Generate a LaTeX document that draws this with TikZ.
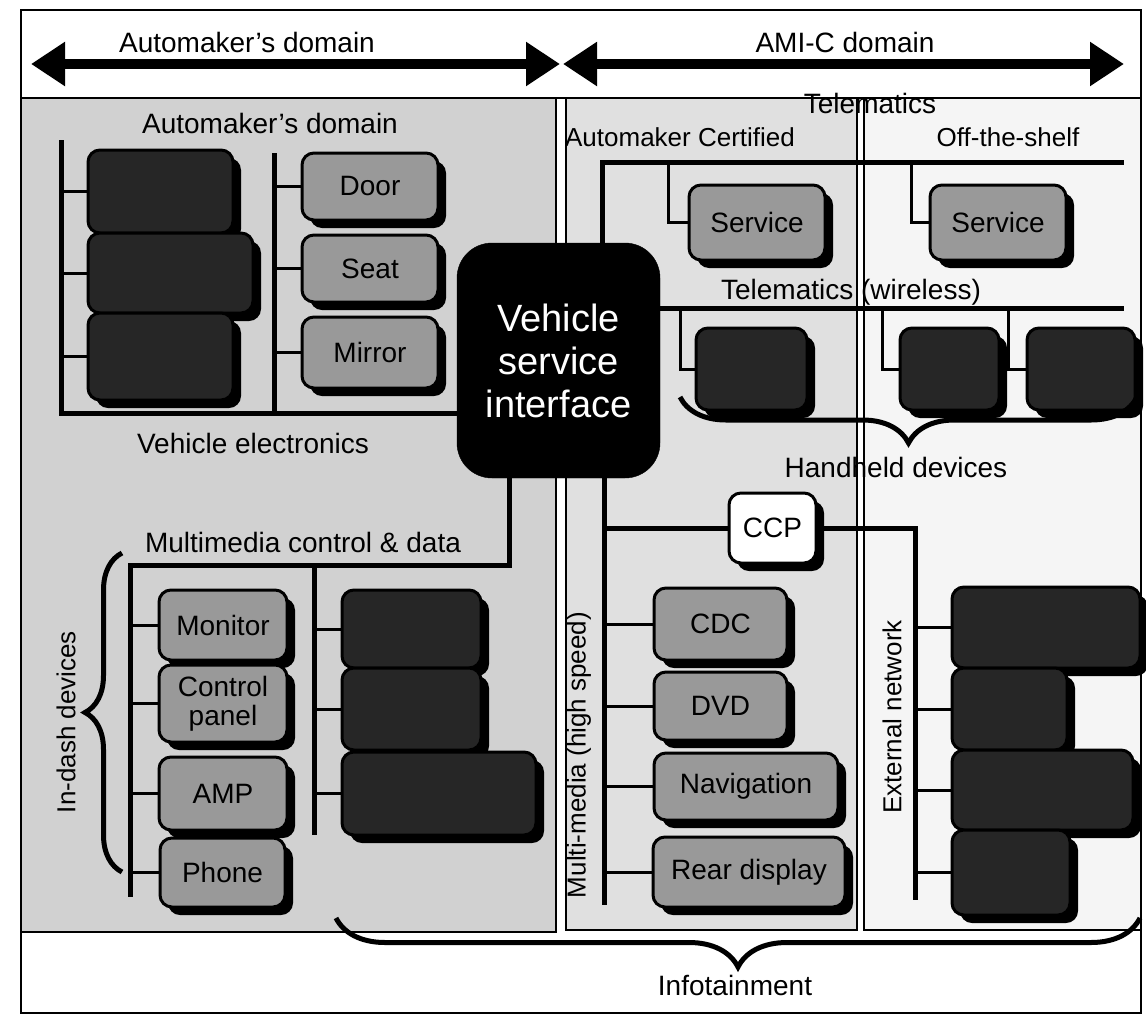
\documentclass[tikz,border=0pt]{standalone}
\usepackage{fontspec}
\setmainfont{Liberation Sans}
\usetikzlibrary{arrows.meta,shadows,decorations.pathreplacing}
\tikzset{
  lbl/.style={font=\fontsize{28}{31}\selectfont},
  sml/.style={font=\fontsize{26}{29}\selectfont},
  shd/.style={drop shadow={shadow xshift=8pt, shadow yshift=-8pt, fill=black, opacity=1}},
  gbox/.style={draw=black, line width=3pt, fill=black!40, rounded corners=12pt, inner sep=0pt,
    align=center, font=\fontsize{28}{29}\selectfont, shd},
  dbox/.style={draw=black, line width=3pt, fill=black!85, rounded corners=12pt, inner sep=0pt, shd},
  bus/.style={line width=5pt},
  stub/.style={line width=3pt},
  brc/.style={decorate, decoration={brace, amplitude=#1}, line width=5pt},
  domarrow/.style={line width=10pt, {Triangle[length=34pt,width=42pt]}-{Triangle[length=34pt,width=42pt]}},
}
\begin{document}
\begin{tikzpicture}[x=1pt, y=-1pt]
  \useasboundingbox (0,0) rectangle (1146,1015);
  % frame and panels
  \draw[line width=2pt] (21,10) rectangle (1141,1013);
  \draw[line width=1.5pt, fill=black!18] (21,98) rectangle (556,932);
  \draw[line width=1.5pt, fill=black!12] (566,98) rectangle (857,930);
  \draw[line width=1.5pt, fill=black!4] (864,98) rectangle (1141,930);
  \draw[line width=2pt] (21,98) -- (1141,98);

  % domains
  \coordinate (amL) at (31,64);
  \coordinate (amR) at (560,64);
  \coordinate (amiL) at (563,64);
  \coordinate (amiR) at (1124,64);
  \draw[domarrow] (amL) -- (amR);
  \draw[domarrow] (amiL) -- (amiR);
  \node[lbl] (amdom) at (247,42) {Automaker’s domain};
  \node[lbl] (amidom) at (845,42) {AMI-C domain};

  \node[lbl, font=\fontsize{38}{43}\selectfont, draw, fill=black, text=white, align=center,
    rounded corners=35pt, minimum width=203pt, minimum height=235pt] (vsi) at (558.5,360.5)
    {Vehicle\\service\\interface};

  % vehicle electronics
  \node[lbl] (amdom2) at (270,123) {Automaker’s domain};
  \node[lbl] (vehel) at (253,443) {Vehicle electronics};
  \node[dbox, minimum width=145pt, minimum height=83pt] (ve1) at (160.5,191.5) {};
  \node[dbox, minimum width=165pt, minimum height=80pt] (ve2) at (170.5,273) {};
  \node[dbox, minimum width=145pt, minimum height=87pt] (ve3) at (160.5,356.5) {};
  \node[gbox, minimum width=136pt, minimum height=67pt] (door) at (370,186.5) {Door};
  \node[gbox, minimum width=136pt, minimum height=67pt] (seat) at (370,268.5) {Seat};
  \node[gbox, minimum width=136pt, minimum height=71pt] (mirror) at (370,352.5) {Mirror};
  \coordinate (veA) at (61,140);
  \coordinate (veB) at (274,153);
  \coordinate (veBus) at (61,413);
  \draw[bus] (veA) -- (veBus) -- (veBus -| vsi.west);
  \draw[bus] (veB) -- (veB |- veBus);
  \draw[stub] (veA |- ve1) -- (ve1.west);
  \draw[stub] (veA |- ve2) -- (ve2.west);
  \draw[stub] (veA |- ve3) -- (ve3.west);
  \draw[stub] (veB |- door) -- (door.west);
  \draw[stub] (veB |- seat) -- (seat.west);
  \draw[stub] (veB |- mirror) -- (mirror.west);

  % multimedia control & data
  \node[lbl] (mmlbl) at (303,542) {Multimedia control \& data};
  \node[gbox, minimum width=128pt, minimum height=70pt] (monitor) at (223,625) {Monitor};
  \node[gbox, minimum width=128pt, minimum height=77pt] (ctrl) at (223,703.5) {Control\\panel};
  \node[gbox, minimum width=128pt, minimum height=73pt] (amp) at (223,793.5) {AMP};
  \node[gbox, minimum width=125pt, minimum height=69pt] (phone) at (222.5,872.5) {Phone};
  \node[dbox, minimum width=139pt, minimum height=78pt] (ld1) at (411.5,629) {};
  \node[dbox, minimum width=139pt, minimum height=82pt] (ld2) at (411.5,709) {};
  \node[dbox, minimum width=194pt, minimum height=83pt] (ld3) at (439,793.5) {};
  \coordinate (mmC) at (509,565);
  \coordinate (mmA) at (130,565);
  \coordinate (mmEnd) at (130,897);
  \coordinate (mmB) at (314,565);
  \coordinate (mmBEnd) at (314,835);
  \draw[bus] (mmC |- vsi.south) -- (mmC) -- (mmA) -- (mmEnd);
  \draw[bus] (mmB) -- (mmBEnd);
  \draw[stub] (mmA |- monitor) -- (monitor.west);
  \draw[stub] (mmA |- ctrl) -- (ctrl.west);
  \draw[stub] (mmA |- amp) -- (amp.west);
  \draw[stub] (mmA |- phone) -- (phone.west);
  \draw[stub] (mmB |- ld1) -- (ld1.west);
  \draw[stub] (mmB |- ld2) -- (ld2.west);
  \draw[stub] (mmB |- ld3) -- (ld3.west);
  \draw[brc=37pt] (122,872) -- (122,553);
  \node[sml, rotate=90] (indash) at (66,722) {In-dash devices};

  % telematics
  \node[lbl] (telem) at (870,103) {Telematics};
  \node[sml] (certif) at (680,137) {Automaker Certified};
  \node[sml] (offsh) at (1008,137) {Off-the-shelf};
  \node[gbox, minimum width=136pt, minimum height=75pt] (svc1) at (757,222.5) {Service};
  \node[gbox, minimum width=136pt, minimum height=75pt] (svc2) at (998,222.5) {Service};
  \coordinate (tlA) at (602,162);
  \coordinate (tlEnd) at (1124,162);
  \coordinate (sv1t) at (668,162);
  \coordinate (sv2t) at (911,162);
  \draw[bus] (tlA |- vsi.north) -- (tlA) -- (tlEnd);
  \draw[stub] (sv1t) |- (svc1.west);
  \draw[stub] (sv2t) |- (svc2.west);

  \node[lbl] (wlbl) at (851,292) {Telematics (wireless)};
  \node[dbox, minimum width=111pt, minimum height=82pt] (hh1) at (751.5,369) {};
  \node[dbox, minimum width=99pt, minimum height=82pt] (hh2) at (949.5,369) {};
  \node[dbox, minimum width=108pt, minimum height=82pt] (hh3) at (1081,369) {};
  \coordinate (wlEnd) at (1124,308);
  \coordinate (hh1t) at (680,308);
  \coordinate (hh2t) at (882,308);
  \coordinate (hh3t) at (1008,308);
  \draw[bus] (vsi.east |- wlEnd) -- (wlEnd);
  \draw[stub] (hh1t) |- (hh1.west);
  \draw[stub] (hh2t) |- (hh2.west);
  \draw[stub] (hh3t) |- (hh3.west);
  \draw[brc=46pt] (1137,397) -- (680,397);
  \node[lbl] (hhlbl) at (896,467) {Handheld devices};

  % multi-media (high speed)
  \node[gbox, fill=white, minimum width=87pt, minimum height=70pt] (ccp) at (772.5,528) {CCP};
  \node[gbox, minimum width=133pt, minimum height=72pt] (cdc) at (720.5,624) {CDC};
  \node[gbox, minimum width=133pt, minimum height=68pt] (dvd) at (720.5,706) {DVD};
  \node[gbox, minimum width=184pt, minimum height=67pt] (nav) at (746,786.5) {Navigation};
  \node[gbox, minimum width=192pt, minimum height=70pt] (rear) at (749,872) {Rear display};
  \node[sml, rotate=90] (hslbl) at (579,755) {Multi-media (high speed)};
  \coordinate (hsEnd) at (604,905);
  \coordinate (exEnd) at (915,900);
  \draw[bus] (hsEnd |- vsi.south) -- (hsEnd);
  \draw[bus] (ccp.west -| hsEnd) -- (ccp.west);
  \draw[bus] (ccp.east) -| (exEnd);
  \draw[stub] (hsEnd |- cdc) -- (cdc.west);
  \draw[stub] (hsEnd |- dvd) -- (dvd.west);
  \draw[stub] (hsEnd |- nav) -- (nav.west);
  \draw[stub] (hsEnd |- rear) -- (rear.west);

  % external network
  \node[sml, rotate=90] (exlbl) at (892,717) {External network};
  \node[dbox, minimum width=188pt, minimum height=81pt] (ex1) at (1046,627.5) {};
  \node[dbox, minimum width=115pt, minimum height=82pt] (ex2) at (1009.5,709) {};
  \node[dbox, minimum width=181pt, minimum height=80pt] (ex3) at (1042.5,790) {};
  \node[dbox, minimum width=118pt, minimum height=85pt] (ex4) at (1011,872.5) {};
  \draw[stub] (exEnd |- ex1) -- (ex1.west);
  \draw[stub] (exEnd |- ex2) -- (ex2.west);
  \draw[stub] (exEnd |- ex3) -- (ex3.west);
  \draw[stub] (exEnd |- ex4) -- (ex4.west);

  % infotainment
  \draw[brc=49pt] (1140,918) -- (336,918);
  \node[lbl] (info) at (735,985) {Infotainment};
\end{tikzpicture}
\end{document}
